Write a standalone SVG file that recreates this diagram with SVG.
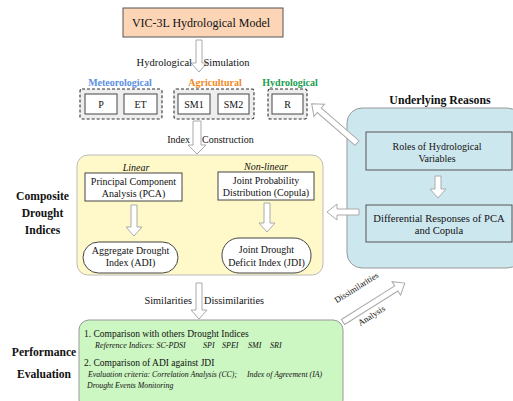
<svg xmlns="http://www.w3.org/2000/svg" width="513" height="401" viewBox="0 0 513 401" font-family="'Liberation Serif', 'Times New Roman', serif">
<style>
text{font-family:'Liberation Serif','Times New Roman',serif;fill:#111}
.t{font-size:10px;text-anchor:middle}
.b{font-weight:bold;font-size:11.6px;text-anchor:middle}
.g{font-weight:bold;font-size:10px;text-anchor:middle}
.box{fill:#fff;stroke:#444;stroke-width:1}
.dash{fill:#eeeeee;stroke:#333;stroke-width:1.1;stroke-dasharray:3,2}
.arr{fill:#fff;stroke:#aaa;stroke-width:1}
.ev{font-size:9.5px}
.it{font-style:italic;font-size:8px}
</style>
<g id="title">
<rect x="123" y="8" width="160" height="29" fill="#fbd5b6" stroke="#555" stroke-width="1"/>
<text x="201" y="26.5" font-size="12" text-anchor="middle">VIC-3L Hydrological Model</text>
</g>
<g id="containers">
<rect x="347" y="108" width="175" height="160" rx="15" fill="#cde7ef" stroke="#999"/>
<rect x="77" y="155" width="246" height="120" rx="11" fill="#fff9c9" stroke="#bbb"/>
<rect x="79" y="320" width="264" height="90" rx="10" fill="#ccf6c2" stroke="#999"/>
</g>
<g id="variables">
<text x="120" y="86" class="g" style="fill:#5b8fe0">Meteorological</text>
<text x="215" y="86" class="g" style="fill:#f08a24">Agricultural</text>
<text x="290" y="86" class="g" style="fill:#1aa050">Hydrological</text>
<rect class="dash" x="80" y="89" width="82" height="30" rx="2"/>
<rect class="dash" x="174" y="89" width="80" height="30" rx="2"/>
<rect class="dash" x="268" y="89" width="39" height="30" rx="2"/>
</g>
<g id="P"><rect class="box" x="85" y="94" width="32" height="20"/><text class="t" x="101" y="107.5">P</text></g>
<g id="ET"><rect class="box" x="124" y="94" width="33" height="20"/><text class="t" x="140.5" y="107.5">ET</text></g>
<g id="SM1"><rect class="box" x="178" y="94" width="32" height="20"/><text class="t" x="194" y="107.5">SM1</text></g>
<g id="SM2"><rect class="box" x="218" y="94" width="31" height="20"/><text class="t" x="233.5" y="107.5">SM2</text></g>
<g id="R"><rect class="box" x="272" y="94" width="31" height="20"/><text class="t" x="287.5" y="107.5">R</text></g>
<g id="composite-label">
<text class="b" x="42.5" y="200">Composite</text>
<text class="b" x="42.5" y="217">Drought</text>
<text class="b" x="42.5" y="234">Indices</text>
</g>
<g id="PCA">
<text class="t" font-style="italic" x="136" y="170.5">Linear</text>
<rect class="box" x="85" y="173" width="97" height="28"/>
<text class="t" x="133.5" y="185">Principal Component</text>
<text class="t" x="133.5" y="197">Analysis (PCA)</text>
</g>
<g id="Copula">
<text class="t" font-style="italic" x="266" y="169.5">Non-linear</text>
<rect class="box" x="218" y="172" width="96" height="28"/>
<text class="t" x="266" y="184">Joint Probability</text>
<text class="t" x="266" y="196">Distribution (Copula)</text>
</g>
<g id="ADI">
<rect class="box" x="83" y="242" width="95" height="31" rx="15.5"/>
<text class="t" x="130.5" y="254">Aggregate Drought</text>
<text class="t" x="130.5" y="266">Index (ADI)</text>
</g>
<g id="JDI">
<rect class="box" x="222" y="238" width="89" height="35" rx="17"/>
<text class="t" x="266.5" y="253">Joint Drought</text>
<text class="t" x="266.5" y="266">Deficit Index (JDI)</text>
</g>
<g id="reasons">
<text class="b" x="440" y="104" style="font-size:11.8px">Underlying Reasons</text>
</g>
<g id="Roles">
<rect x="366" y="132" width="146" height="38" fill="none" stroke="#555"/>
<text class="t" x="437" y="150">Roles of Hydrological</text>
<text class="t" x="437" y="162">Variables</text>
</g>
<g id="Differential">
<rect x="366" y="205" width="146" height="37" fill="none" stroke="#555"/>
<text class="t" x="439" y="222" style="font-size:10.6px">Differential Responses of PCA</text>
<text class="t" x="439" y="234" style="font-size:10.6px">and Copula</text>
</g>
<g id="performance-label">
<text class="b" x="44" y="356">Performance</text>
<text class="b" x="44" y="378">Evaluation</text>
</g>
<g id="evaluation">
<text x="84" y="337" class="ev">1. Comparison with others Drought Indices</text>
<text x="95" y="348" class="it">Reference Indices: SC-PDSI</text>
<text x="203" y="348" class="it">SPI</text>
<text x="222" y="348" class="it">SPEI</text>
<text x="248" y="348" class="it">SMI</text>
<text x="270" y="348" class="it">SRI</text>
<text x="84" y="366" class="ev">2. Comparison of ADI against JDI</text>
<text x="88" y="377" class="it" style="font-size:7.8px">Evaluation criteria: Correlation Analysis (CC);</text>
<text x="247" y="377" class="it" style="font-size:7.8px">Index of Agreement (IA)</text>
<text x="87" y="388" class="it" style="font-size:7.8px">Drought Events Monitoring</text>
</g>
<g id="connectors">
<polygon class="arr" points="196,40 202,40 202,63 207,63 199,72 191,63 196,63"/>
<text class="t" x="192" y="66" style="font-size:10.5px;text-anchor:end">Hydrological</text>
<text class="t" x="203.5" y="66" style="font-size:10.5px;text-anchor:start">Simulation</text>
<polygon class="arr" points="193,121 201,121 201,145 206,145 197,154 188,145 193,145"/>
<text class="t" x="190" y="143" style="text-anchor:end">Index</text>
<text class="t" x="202" y="143" style="text-anchor:start">Construction</text>
<polygon class="arr" points="131,205 137,205 137,227 142,227 134,236 126,227 131,227"/>
<polygon class="arr" points="264,203 270,203 270,223 275,223 267,232 259,223 264,223"/>
<polygon class="arr" points="435,176 441,176 441,189 446,189 438,198 430,189 435,189"/>
<polygon class="arr" points="359,209 337,209 337,204 327,212 337,220 337,215 359,215"/>
<polygon class="arr" points="196,283 202,283 202,310 207,310 199,319 191,310 196,310"/>
<text class="t" x="192" y="304" style="font-size:10.3px;text-anchor:end">Similarities</text>
<text class="t" x="204" y="304" style="font-size:10.3px;text-anchor:start">Dissimilarities</text>
<g transform="translate(357,143) rotate(-139.1)"><polygon class="arr" points="0,-3 50,-3 50,-8 60,0 50,8 50,3 0,3"/></g>
<g transform="translate(343,322) rotate(-32.2)"><polygon class="arr" points="0,-3 63,-3 63,-8 73,0 63,8 63,3 0,3"/></g>
<text x="358" y="290" transform="rotate(-32.2 358 290)" font-size="8.6" text-anchor="middle">Dissimilarities</text>
<text x="373" y="318" transform="rotate(-32.2 373 318)" font-size="8.6" text-anchor="middle">Analysis</text>
</g>
</svg>
